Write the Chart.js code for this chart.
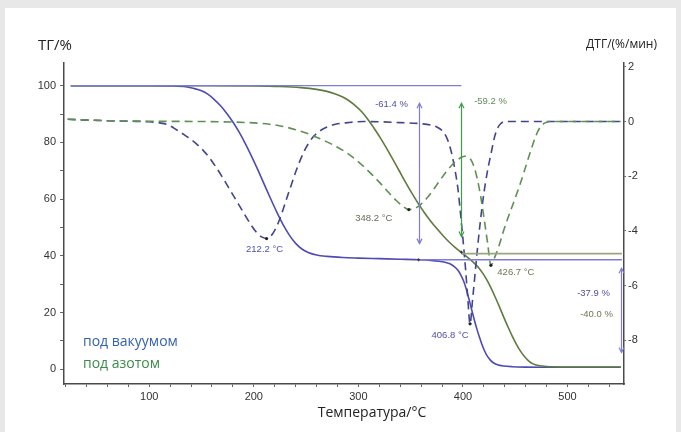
<!DOCTYPE html>
<html>
<head>
<meta charset="utf-8">
<script src="https://cdn.jsdelivr.net/npm/chart.js@4.4.1/dist/chart.umd.min.js"></script>
<style>
html,body{margin:0;padding:0;background:#e8e8e8;}
#wrap{position:relative;width:681px;height:432px;overflow:hidden;}
#c{position:absolute;left:0;top:0;}
.t{position:absolute;white-space:nowrap;font-family:'Open Sans',sans-serif;line-height:20px;}
</style>
</head>
<body>
<div id="wrap">
<canvas id="c" width="681" height="432"></canvas>
<div class="t" style="left:38px;top:34px;font-size:15px;color:#222;">ТГ/%</div>
<div class="t" style="right:24px;top:34px;font-size:12px;color:#222;">ДТГ/(%/мин)</div>
<div class="t" style="left:372px;top:402px;font-size:14px;color:#222;transform:translateX(-50%);">Температура/°C</div>
<div class="t" style="left:83px;top:331px;font-size:14px;color:#3461b0;">под вакуумом</div>
<div class="t" style="left:83px;top:353px;font-size:14px;color:#3a8c4a;">под азотом</div>
</div>
<script>
// ---------- DATA ----------
// TG under vacuum (blue solid)
const vacTgT = [25,100,120,135,143,150,156,162,168,174,180,186,192,198,204,210,216,222,228,234,240,246,252,260,270,285,300,320,340,359,369,377,383,388,392,395,398,400.5,403,405.5,408,410.5,413,415.5,418,420.5,423,426,429,433,439,447,460,480,551];
const vacTg  = [100,100,99.9,99.6,99.0,98.2,97.0,95.2,93.0,90.3,87.2,83.6,79.5,75.0,70.2,65.2,60.2,55.4,51.0,47.3,44.4,42.4,41.2,40.3,39.8,39.4,39.2,39.0,38.8,38.6,38.4,38.1,37.7,37.1,36.1,35.0,33.2,31.2,28.5,25.1,21.5,17.9,14.6,11.6,8.9,6.6,4.8,3.3,2.3,1.6,1.15,0.9,0.75,0.7,0.7];
// DTG under vacuum (blue dashed)
const vacDtgT = [22,50,80,100,110,118,126,134,142,150,157,164,171,178,185,192,198,203,208,212.2,216,220,224,228,232,236,240,244,248,252,257,263,270,278,290,305,320,340,360,369,375,380,384,387,390,392.5,395,397.5,400,402.5,404.5,406.8,409,411.5,414,416.5,419,421.5,424,427,430,433,436,440,480,551];
const vacDtg  = [0.08,0.04,0.01,-0.01,-0.05,-0.12,-0.3,-0.5,-0.72,-0.99,-1.3,-1.68,-2.1,-2.55,-3.0,-3.45,-3.82,-4.07,-4.23,-4.28,-4.2,-3.98,-3.65,-3.22,-2.75,-2.3,-1.85,-1.45,-1.1,-0.82,-0.55,-0.35,-0.2,-0.1,-0.04,0,-0.01,-0.04,-0.08,-0.13,-0.2,-0.33,-0.55,-0.85,-1.3,-1.8,-2.4,-3.3,-4.3,-5.4,-6.4,-7.4,-6.6,-5.6,-4.6,-3.7,-2.9,-2.25,-1.7,-1.15,-0.6,-0.25,-0.08,0,0,0];
// TG under nitrogen (green solid)
const n2TgT = [25,150,200,225,245,260,270,278,285,291,297,303,309,315,321,327,333,339,345,351,357,363,369,375,381,387,393,399,405,410,415,419,423,427,431,435,439,443,447,451,455,459,463,467,472,480,500,551];
const n2Tg  = [100,100,99.9,99.7,99.3,98.7,98.0,97.1,96.0,94.7,93.0,90.9,88.2,85.0,81.6,77.9,74.0,70.0,66.0,62.2,58.6,55.3,52.3,49.6,47.1,44.8,42.8,41.0,39.3,37.7,35.8,33.8,31.4,28.5,25.3,21.9,18.4,15.0,11.8,8.9,6.4,4.4,2.9,1.9,1.3,0.95,0.8,0.8];
// DTG under nitrogen (green dashed)
const n2DtgT = [22,60,100,150,180,200,215,228,240,252,264,276,287,297,306,314,322,329,336,342,348.2,354,360,366,372,378,384,390,395,399,402,405,408,411,414,417,420.2,423.6,426.7,430,434,439,444,449.5,455,460,465,470,474,478,483,520,551];
const n2Dtg  = [0.08,0.03,0.01,0,-0.02,-0.05,-0.1,-0.18,-0.3,-0.45,-0.64,-0.86,-1.1,-1.38,-1.68,-1.98,-2.3,-2.6,-2.88,-3.08,-3.22,-3.18,-3.02,-2.78,-2.48,-2.15,-1.84,-1.57,-1.4,-1.3,-1.27,-1.3,-1.42,-1.7,-2.15,-2.75,-3.55,-4.45,-5.26,-5.0,-4.6,-3.98,-3.42,-2.85,-2.25,-1.65,-1.05,-0.5,-0.2,-0.06,0,0,0];

// Peaks (DTG minima)
const peakTemps  = [212.2, 348.2, 406.8, 426.7];
const peakDtg    = [-4.28, -3.22, -7.4, -5.26];
const peakLabels = ['212.2 °C', '348.2 °C', '406.8 °C', '426.7 °C'];
// Mass-change steps
const stepTemps   = [357.6, 398.5];          // vacuum, nitrogen
const stepLevels  = [38.6, 40.8];            // TG after 1st step
const massLabels  = ['-61.4 %', '-59.2 %', '-37.9 %', '-40.0 %'];

// Tick labels
const xTickLabels  = [100, 200, 300, 400, 500];
const yTickLabels  = [0, 20, 40, 60, 80, 100];
const y2TickLabels = [2, 0, -2, -4, -6, -8];

// ---------- helpers ----------
const pts = (t, v) => t.map((x, i) => ({x: x, y: v[i]}));

const C = {
  vacTg: '#4f4bb5', vacDtg: '#42448f', n2Tg: '#5f7b3e', n2Dtg: '#5f9052',
  annBlue: '#7d7dd6', annGreen: '#3f9a4a', annOlive: '#98a67c',
  txtBlue: '#5050a6', txtGreen: '#628a5a', txtOlive: '#6f7450', txtGrey: '#6a6a5e'
};

const bgPlugin = {
  id: 'bg',
  beforeDraw(chart) {
    const ctx = chart.ctx;
    ctx.save();
    ctx.fillStyle = '#ffffff';
    ctx.fillRect(5, 8, 671, 424);
    ctx.restore();
  }
};

function arrowHead(ctx, x, y, dir) {
  ctx.beginPath();
  ctx.moveTo(x - 2.5, y - dir * 5);
  ctx.lineTo(x, y);
  ctx.lineTo(x + 2.5, y - dir * 5);
  ctx.stroke();
}

const annotPlugin = {
  id: 'annot',
  afterDatasetsDraw(chart) {
    const ctx = chart.ctx;
    const X = v => chart.scales.x.getPixelForValue(v);
    const Y = v => chart.scales.y.getPixelForValue(v);
    const Y2 = v => chart.scales.y2.getPixelForValue(v);
    const xEnd = chart.scales.x.max - 2;
    ctx.save();
    ctx.lineWidth = 1.2;
    // baseline at 100 %
    ctx.strokeStyle = C.annBlue;
    ctx.beginPath(); ctx.moveTo(X(25), Y(100)); ctx.lineTo(X(stepTemps[1]), Y(100)); ctx.stroke();
    // plateau lines
    ctx.lineWidth = 1.8;
    ctx.strokeStyle = C.annOlive;
    ctx.beginPath(); ctx.moveTo(X(stepTemps[1]), Y(stepLevels[1])); ctx.lineTo(X(xEnd), Y(stepLevels[1])); ctx.stroke();
    ctx.lineWidth = 1.4;
    ctx.strokeStyle = C.annBlue;
    ctx.beginPath(); ctx.moveTo(X(stepTemps[0]), Y(stepLevels[0])); ctx.lineTo(X(xEnd), Y(stepLevels[0])); ctx.stroke();
    // vertical arrows
    ctx.lineWidth = 1.2;
    ctx.strokeStyle = C.annBlue;
    let x0 = Math.round(X(stepTemps[0])) + 0.5;
    ctx.beginPath(); ctx.moveTo(x0, Y(93.8)); ctx.lineTo(x0, Y(44.3)); ctx.stroke();
    arrowHead(ctx, x0, Y(93.8), -1); arrowHead(ctx, x0, Y(44.3), 1);
    ctx.strokeStyle = C.annGreen;
    let x1 = Math.round(X(stepTemps[1])) + 0.5;
    ctx.beginPath(); ctx.moveTo(x1, Y(93.8)); ctx.lineTo(x1, Y(46.8)); ctx.stroke();
    arrowHead(ctx, x1, Y(93.8), -1); arrowHead(ctx, x1, Y(46.8), 1);
    ctx.strokeStyle = C.annBlue;
    let x2 = Math.round(X(xEnd - 0.5)) + 0.5;
    ctx.beginPath(); ctx.moveTo(x2, Y(35.6)); ctx.lineTo(x2, Y(5.9)); ctx.stroke();
    arrowHead(ctx, x2, Y(35.6), -1); arrowHead(ctx, x2, Y(5.9), 1);
    // step markers
    ctx.fillStyle = '#333';
    [[stepTemps[0], 38.6], [stepTemps[1], 41.3]].forEach(p => {
      ctx.fillRect(X(p[0]) - 1.5, Y(p[1]) - 0.5, 3, 1);
      ctx.fillRect(X(p[0]) - 0.5, Y(p[1]) - 1.5, 1, 3);
    });
    // peak markers and labels
    const offs = [[-2, 11], [-35, 9], [-20, 12], [25, 7]];
    const pcol = [C.txtBlue, C.txtGrey, C.txtBlue, C.txtOlive];
    ctx.font = '9.5px "Liberation Sans", Arial, sans-serif';
    ctx.textAlign = 'center';
    ctx.textBaseline = 'middle';
    peakTemps.forEach((t, i) => {
      const px = X(t), py = Y2(peakDtg[i]);
      ctx.fillStyle = '#222';
      ctx.beginPath(); ctx.arc(px, py, 1.6, 0, Math.PI * 2); ctx.fill();
      ctx.fillStyle = pcol[i];
      ctx.fillText(peakLabels[i], px + offs[i][0], py + offs[i][1]);
    });
    // mass loss labels
    ctx.fillStyle = C.txtBlue;
    ctx.fillText(massLabels[0], x0 - 28, Y(93.8) + 1);
    ctx.fillStyle = C.txtGreen;
    ctx.fillText(massLabels[1], x1 + 29, Y(93.8) - 2);
    ctx.fillStyle = C.txtBlue;
    ctx.fillText(massLabels[2], x2 - 28, Y(26.7));
    ctx.fillStyle = C.txtOlive;
    ctx.fillText(massLabels[3], x2 - 25, Y(19.3));
    ctx.restore();
  }
};

const tickFont = {family: '"Liberation Sans", Arial, sans-serif', size: 11};

new Chart(document.getElementById('c'), {
  type: 'line',
  data: {
    datasets: [
      {label: 'ДТГ под азотом', data: pts(n2DtgT, n2Dtg), yAxisID: 'y2', borderColor: C.n2Dtg, borderDash: [8, 5], borderWidth: 1.6},
      {label: 'ДТГ под вакуумом', data: pts(vacDtgT, vacDtg), yAxisID: 'y2', borderColor: C.vacDtg, borderDash: [8, 5], borderWidth: 1.6},
      {label: 'ТГ под азотом', data: pts(n2TgT, n2Tg), yAxisID: 'y', borderColor: C.n2Tg, borderWidth: 1.6},
      {label: 'ТГ под вакуумом', data: pts(vacTgT, vacTg), yAxisID: 'y', borderColor: C.vacTg, borderWidth: 1.6}
    ]
  },
  options: {
    responsive: false,
    animation: false,
    layout: {padding: {top: 63, left: 0, right: 0, bottom: 0}},
    elements: {point: {radius: 0}, line: {cubicInterpolationMode: 'monotone', fill: false}},
    plugins: {legend: {display: false}, tooltip: {enabled: false}},
    scales: {
      x: {
        type: 'linear', min: 18.5, max: 554,
        afterFit: s => { s.height = 48; },
        border: {display: true, color: '#4a4a4a', width: 1.5},
        grid: {drawOnChartArea: false, drawTicks: true, tickLength: 3, color: '#666'},
        ticks: {stepSize: 20, includeBounds: false, autoSkip: false, maxRotation: 0, padding: 3, color: '#333', font: tickFont,
          callback: v => xTickLabels.includes(v) ? String(v) : ''}
      },
      y: {
        type: 'linear', position: 'left', min: -5.2, max: 108,
        afterFit: s => { s.width = 64; },
        border: {display: true, color: '#4a4a4a', width: 1.5},
        grid: {drawOnChartArea: false, drawTicks: true, tickLength: 4, color: '#666'},
        ticks: {stepSize: 10, includeBounds: false, autoSkip: false, padding: 4, color: '#333', font: tickFont,
          callback: v => yTickLabels.includes(v) ? String(v) : ''}
      },
      y2: {
        type: 'linear', position: 'right', min: -9.6, max: 2.14,
        afterFit: s => { s.width = 57; },
        border: {display: true, color: '#4a4a4a', width: 1.5},
        grid: {drawOnChartArea: false, drawTicks: true, tickLength: 2, color: '#666'},
        ticks: {stepSize: 2, includeBounds: false, autoSkip: false, padding: 2, color: '#333', font: tickFont,
          callback: v => y2TickLabels.includes(v) ? String(v) : ''}
      }
    }
  },
  plugins: [bgPlugin, annotPlugin]
});
</script>
</body>
</html>
